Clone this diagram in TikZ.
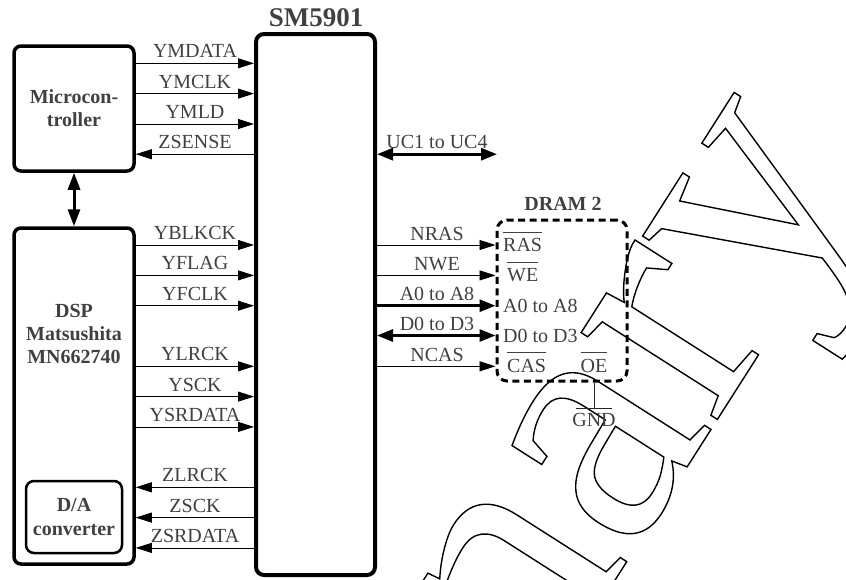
\documentclass[tikz,border=0pt]{standalone}
\usepackage{fontspec}
\setmainfont{Liberation Serif}
\usetikzlibrary{arrows.meta}
\definecolor{txt}{gray}{0.25}
\newcommand\ovl[1]{\leavevmode\setbox0\hbox{#1}\rlap{\rule[19.5pt]{\wd0}{0.7pt}}\box0}
\newcommand\outlinetext[1]{\special{pdf:literal direct 1 Tr 1.4 w 0 0 0 RG}#1\special{pdf:literal direct 0 Tr}}
\begin{document}
\begin{tikzpicture}[x=1pt,y=-1pt,
  font=\fontsize{20}{23}\selectfont, text=txt,
  box/.style={draw=black, rounded corners=7pt, line width=3.5pt, inner sep=0pt, align=center, font=\fontsize{20}{23}\selectfont\bfseries},
  sig/.style={draw=black, line width=0.8pt, -{Triangle[length=16pt,width=10pt]}},
  bus/.style={draw=black, line width=2.8pt, -{Triangle[length=16pt,width=12pt]}},
  dbus/.style={draw=black, line width=2.8pt, {Triangle[length=16pt,width=12pt]}-{Triangle[length=16pt,width=12pt]}},
  lbl/.style={anchor=base, inner sep=0pt},
  inl/.style={anchor=base west, inner sep=0pt}]
\useasboundingbox (0,0) rectangle (846,579);
\clip (0,0) rectangle (846,579);
% watermark
\node[rotate=57.5, anchor=base west, inner sep=0pt, text=black,
  font=\fontsize{352}{352}\selectfont] (wm) at (-22,1580)
  {\outlinetext{Preliminary}};
% boxes
\node[box, minimum width=119pt, minimum height=541pt, line width=4pt, rounded corners=8pt] (sm) at (315.5,304.5) {};
\node[anchor=base, inner sep=0pt, font=\fontsize{27}{30}\selectfont\bfseries] (smt) at (316,26) {SM5901};
\node[box, minimum width=120pt, minimum height=125pt] (mc) at (74,108.5) {Microcon-\\troller};
\node[box, minimum width=120pt, minimum height=336pt] (dsp) at (74,396) {};
\node[inner sep=0pt, align=center, font=\fontsize{20}{23}\selectfont\bfseries] (dspt) at (74,334.3) {DSP\\Matsushita\\MN662740};
\node[box, minimum width=96pt, minimum height=72pt, line width=2.5pt, rounded corners=8pt, font=\fontsize{20}{24}\selectfont\bfseries] (da) at (74,517) {D/A\\converter};
\node[draw=black, dashed, dash pattern=on 7pt off 4.5pt, line width=3pt, rounded corners=10pt, minimum width=130pt, minimum height=161pt, inner sep=0pt] (dram) at (562,300.5) {};
\node[anchor=base, inner sep=0pt, font=\fontsize{20}{23}\selectfont\bfseries] (dramt) at (563,210) {DRAM 2};
% micro <-> dsp
\draw[draw=black, line width=3pt, {Triangle[length=17pt,width=12pt]}-{Triangle[length=17pt,width=12pt]}] (mc.south) -- (dsp.north);
% micro signals
\foreach \yy/\txt/\nm in {63.3/YMDATA/a,93.6/YMCLK/b,124/YMLD/c}{
  \coordinate (row\nm) at (0,\yy);
  \node[lbl] (lab\nm) at (195,\yy-5.5) {\txt};
  \draw[sig] (mc.east |- row\nm) -- (sm.west |- row\nm);
}
\coordinate (rowd) at (0,154.2);
\node[lbl] (labd) at (195,148.7) {ZSENSE};
\draw[sig] (sm.west |- rowd) -- (mc.east |- rowd);
% dsp inputs to SM
\foreach \yy/\txt/\nm in {245/YBLKCK/e,275.4/YFLAG/f,305.7/YFCLK/g,366.3/YLRCK/h,396.6/YSCK/i,426.9/YSRDATA/j}{
  \coordinate (row\nm) at (0,\yy);
  \node[lbl] (lab\nm) at (195,\yy-5.5) {\txt};
  \draw[sig] (dsp.east |- row\nm) -- (sm.west |- row\nm);
}
\foreach \yy/\txt/\nm in {487.3/ZLRCK/k,517.6/ZSCK/l,547.9/ZSRDATA/m}{
  \coordinate (row\nm) at (0,\yy);
  \node[lbl] (lab\nm) at (195,\yy-5.5) {\txt};
  \draw[sig] (sm.west |- row\nm) -- (dsp.east |- row\nm);
}
% UC
\coordinate (uc) at (497,154.2);
\node[lbl] (labuc) at (437,148.5) {UC1 to UC4};
\draw[dbus] (sm.east |- uc) -- (uc);
% DRAM signals
\foreach \yy/\txt/\nm in {245/NRAS/n,275.4/NWE/o,366.3/NCAS/q}{
  \coordinate (row\nm) at (0,\yy);
  \node[lbl] (lab\nm) at (437,\yy-5) {\txt};
  \draw[sig] (sm.east |- row\nm) -- (dram.west |- row\nm);
}
\coordinate (rowp) at (0,305.7);
\node[lbl] (labp) at (437,300.7) {A0 to A8};
\draw[bus] (sm.east |- rowp) -- (dram.west |- rowp);
\coordinate (rowr) at (0,335.5);
\node[lbl] (labr) at (437,330.5) {D0 to D3};
\draw[dbus] (sm.east |- rowr) -- (dram.west |- rowr);
% inner labels
\node[inl] (iras) at (503,251.7) {\ovl{RAS}};
\node[inl] (iwe) at (507,281.9) {\ovl{WE}};
\node[inl] (ia) at (503,312.2) {A0 to A8};
\node[inl] (id) at (503,342) {D0 to D3};
\node[inl] (icas) at (507,372.5) {\ovl{CAS}};
\node[lbl] (ioe) at (594,372.5) {\ovl{OE}};
% GND
\coordinate (gnd) at (594,408);
\draw[draw=black!85, line width=0.8pt] (dram.south -| gnd) -- (gnd);
\draw[draw=black!85, line width=0.8pt] ([xshift=-18pt]gnd) -- ([xshift=18pt]gnd);
\node[lbl] (gndt) at (594,426.7) {GND};
\end{tikzpicture}
\end{document}
